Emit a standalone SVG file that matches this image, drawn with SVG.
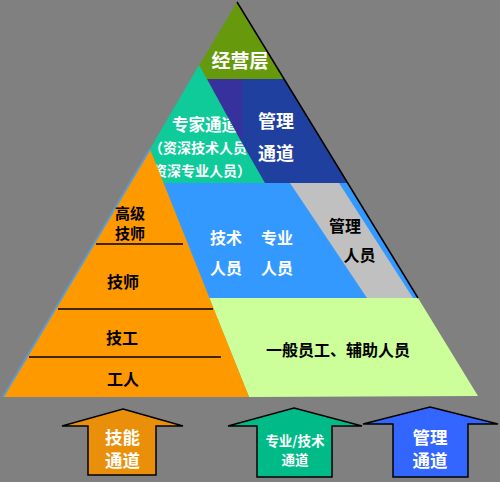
<svg xmlns="http://www.w3.org/2000/svg" width="500" height="482" viewBox="0 0 500 482">
<style>
.t{font-family:"Noto Sans CJK SC","Liberation Sans",sans-serif;font-weight:bold;text-anchor:middle}
.w{fill:#ffffff}
.k{fill:#000000}
.sep{stroke:#000;stroke-width:1.5}
.arr{stroke:#000;stroke-width:1.5}
</style>
<rect x="0" y="0" width="500" height="482" fill="#808080"/>
<g id="layer-top">
<polygon points="237,2 284,79 191,79" fill="#669a0c"/>
<text class="t w" x="240" y="68" font-size="19">经营层</text>
</g>
<g id="expert-channel">
<polygon points="199,65 265,183 163,183 150,149" fill="#0fcb9a"/>
<text class="t w" x="205" y="131" font-size="16.5">专家通道</text>
<text class="t w" font-size="14" style="text-anchor:start"><tspan x="149" y="153">（资深技术人员、</tspan><tspan x="153" y="176">资深专业人员）</tspan></text>
</g>
<g id="management-channel">
<polygon points="207,79 242,79 242,143" fill="#36319c"/>
<polygon points="242,79 284,79 347,183 265,183 242,143" fill="#2040a0"/>
<text class="t w" font-size="18"><tspan x="276" y="128">管理</tspan><tspan x="276" y="159.5">通道</tspan></text>
</g>
<g id="tech-staff">
<polygon points="163,183 347,183 418,298 209,298" fill="#3399ff"/>
<text class="t w" font-size="16"><tspan x="226" y="244">技术</tspan><tspan x="226" y="273.5">人员</tspan></text>
<text class="t w" font-size="16"><tspan x="277" y="244">专业</tspan><tspan x="277" y="273.5">人员</tspan></text>
</g>
<g id="manager-staff">
<polygon points="290,183 339,183 413,298 367,298" fill="#c0c0c0"/>
<text class="t k" font-size="16"><tspan x="345" y="231.5">管理</tspan><tspan x="359.5" y="261">人员</tspan></text>
</g>
<g id="general-staff">
<polygon points="209,298 418,298 478,396 249,397" fill="#ccff99"/>
<text class="t k" x="266" y="356" font-size="16" style="text-anchor:start">一般员工、辅助人员</text>
</g>
<g id="skill-levels">
<polygon points="150,149 249,397 3,397" fill="#ff9900"/>
<line x1="150" y1="149" x2="3" y2="397" stroke="#5b9bd5" stroke-width="2"/>
<line class="sep" x1="96" y1="244" x2="183" y2="244"/>
<line class="sep" x1="58" y1="309" x2="213" y2="309"/>
<line class="sep" x1="29" y1="357" x2="221" y2="357"/>
<text class="t k" font-size="15"><tspan x="130" y="219">高级</tspan><tspan x="130" y="239">技师</tspan></text>
<text class="t k" x="123" y="287.5" font-size="16">技师</text>
<text class="t k" x="122" y="344" font-size="16">技工</text>
<text class="t k" x="123" y="384.5" font-size="16">工人</text>
</g>
<g id="edge">
<line x1="237" y1="2" x2="418" y2="298" stroke="#000" stroke-width="1.5"/>
</g>
<g id="connectors">
<g id="arrow-skill">
<polygon class="arr" points="123,409 183,426 156,426 156,475 88,475 88,426 62,426" fill="#ea8f0a"/>
<text class="t w" font-size="17.5"><tspan x="122.5" y="443.5">技能</tspan><tspan x="122.5" y="467">通道</tspan></text>
</g>
<g id="arrow-tech">
<polygon class="arr" points="294,408 362,426 332,426 332,477 257,477 257,426 228,426" fill="#00bb88"/>
<text class="t w" font-size="13.5"><tspan x="295" y="445.5">专业/技术</tspan><tspan x="295" y="464.5">通道</tspan></text>
</g>
<g id="arrow-mgmt">
<polygon class="arr" points="430,407 498,424 468,424 468,477 393,477 393,424 363,424" fill="#3366ff"/>
<text class="t w" font-size="17.5"><tspan x="430" y="443.5">管理</tspan><tspan x="430" y="467">通道</tspan></text>
</g>
</g>
</svg>
